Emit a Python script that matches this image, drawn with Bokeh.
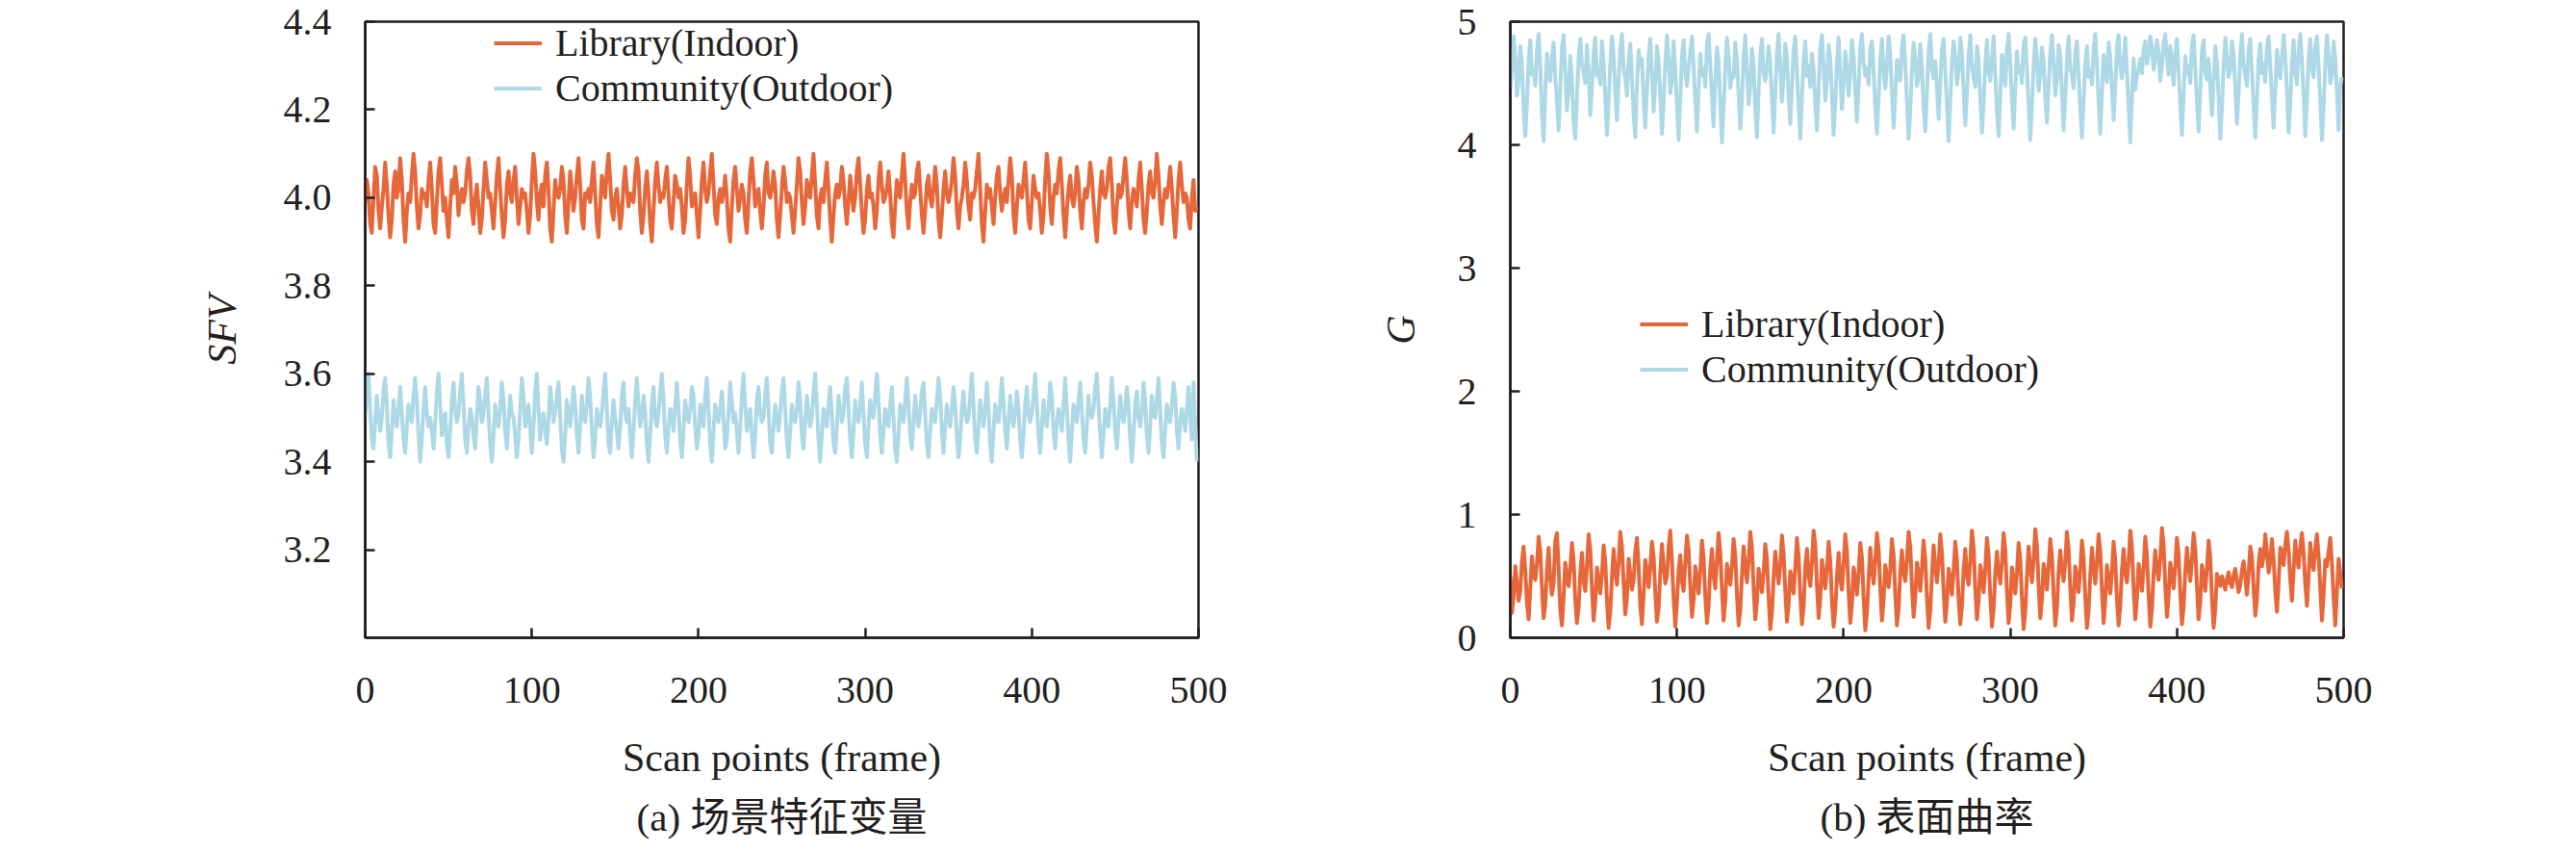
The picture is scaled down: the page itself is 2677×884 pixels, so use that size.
from bokeh.plotting import figure
from bokeh.layouts import row
from bokeh.models import Range1d, FixedTicker, PrintfTickFormatter, Legend, LegendItem, Title
from bokeh.embed import file_html
from bokeh.resources import INLINE

# ---------------- data ----------------
frames = list(range(500))   # scan point index

x_ticks = [0, 100, 200, 300, 400, 500]
y_ticks_a = [3.2, 3.4, 3.6, 3.8, 4.0, 4.2, 4.4]
y_ticks_b = [0, 1, 2, 3, 4, 5]

series_names = ["Library(Indoor)", "Community(Outdoor)"]
captions = ["(a) 场景特征变量", "(b) 表面曲率"]
y_labels = ["SFV", "G"]
x_label = "Scan points (frame)"

# (a) SFV - Library(Indoor)
sfv_library = [
    3.99, 4.04, 4.01, 3.94, 3.92, 4.00, 4.07, 4.05, 3.97, 3.93, 3.98, 4.02, 4.08, 4.03, 3.96, 3.91, 3.95, 4.03, 4.06, 4.00, 4.02, 4.09, 4.04, 3.95, 3.90,
    3.97, 4.01, 3.99, 4.05, 4.10, 4.06, 3.98, 3.93, 3.96, 4.02, 4.00, 4.01, 3.98, 4.04, 4.08, 4.02, 3.94, 3.92, 3.99, 4.06, 4.09, 4.03, 3.97, 4.00, 3.95,
    3.91, 3.98, 4.04, 4.01, 4.07, 4.03, 3.96, 4.00, 4.02, 3.99, 4.01, 4.06, 4.09, 4.05, 3.97, 3.94, 4.00, 4.03, 3.98, 3.92, 3.95, 4.02, 4.08, 4.04, 4.00,
    4.01, 3.97, 3.93, 3.99, 4.05, 4.09, 4.02, 3.96, 3.91, 3.95, 4.03, 4.06, 4.01, 3.99, 4.04, 4.07, 4.00, 3.94, 3.98, 4.02, 4.00, 4.01, 3.97, 3.92, 3.96,
    4.04, 4.10, 4.06, 3.99, 3.95, 4.01, 4.03, 3.98, 4.05, 4.08, 4.02, 3.93, 3.90, 3.97, 4.04, 4.01, 4.00, 4.02, 4.07, 4.04, 3.96, 3.92, 3.99, 4.06, 4.02,
    3.97, 4.00, 4.05, 4.09, 4.03, 3.95, 3.93, 4.01, 4.00, 4.02, 3.99, 4.04, 4.08, 4.01, 3.94, 3.91, 3.98, 4.05, 4.03, 4.00, 4.06, 4.10, 4.04, 3.97, 3.95,
    4.00, 4.02, 3.98, 3.93, 3.96, 4.03, 4.07, 4.02, 3.98, 4.01, 4.00, 3.99, 4.05, 4.09, 4.06, 3.97, 3.92, 3.96, 4.02, 4.06, 4.01, 3.94, 3.90, 3.97, 4.04,
    4.08, 4.03, 3.99, 4.01, 4.00, 4.04, 4.07, 4.01, 3.95, 3.93, 3.99, 4.05, 4.03, 4.00, 4.02, 3.98, 3.92, 3.95, 4.03, 4.09, 4.05, 3.98, 4.00, 4.01, 3.96,
    3.91, 3.97, 4.04, 4.08, 4.02, 3.99, 4.01, 4.06, 4.10, 4.03, 3.96, 3.94, 4.00, 4.02, 3.99, 4.01, 4.05, 4.00, 3.93, 3.90, 3.98, 4.04, 4.07, 4.02, 3.97,
    4.00, 4.03, 4.01, 3.95, 3.92, 3.99, 4.06, 4.09, 4.04, 3.98, 4.00, 4.02, 3.97, 3.93, 3.98, 4.05, 4.08, 4.01, 4.00, 4.02, 4.06, 4.03, 3.95, 3.91, 3.96,
    4.02, 4.07, 4.04, 3.99, 4.01, 4.00, 3.96, 3.92, 3.97, 4.03, 4.09, 4.06, 3.99, 3.94, 3.98, 4.04, 4.01, 4.00, 4.05, 4.10, 4.03, 3.96, 3.93, 4.00, 4.02,
    3.99, 4.04, 4.08, 4.02, 3.95, 3.90, 3.96, 4.01, 4.03, 4.00, 4.02, 4.07, 4.04, 3.98, 3.94, 3.99, 4.05, 4.01, 3.97, 4.00, 4.06, 4.09, 4.03, 3.97, 3.92,
    3.95, 4.02, 4.05, 4.00, 4.01, 3.98, 3.93, 3.97, 4.04, 4.08, 4.03, 3.99, 4.00, 4.02, 4.06, 4.01, 3.94, 3.91, 3.98, 4.04, 4.02, 4.00, 4.05, 4.10, 4.04,
    3.97, 3.93, 3.99, 4.03, 4.00, 4.01, 4.06, 4.08, 4.02, 3.96, 3.92, 3.97, 4.03, 4.05, 4.00, 3.98, 4.02, 4.07, 4.03, 3.95, 3.91, 3.96, 4.02, 4.06, 4.01,
    3.99, 4.01, 4.04, 4.09, 4.05, 3.97, 3.93, 3.98, 4.00, 4.03, 4.08, 4.04, 3.98, 3.95, 4.01, 4.00, 4.02, 4.06, 4.10, 4.02, 3.94, 3.90, 3.97, 4.03, 4.00,
    4.02, 3.98, 3.94, 4.00, 4.05, 4.07, 4.01, 3.97, 4.00, 4.02, 3.99, 4.04, 4.09, 4.05, 3.96, 3.92, 3.98, 4.03, 4.01, 4.00, 4.04, 4.08, 4.02, 3.95, 3.93,
    3.99, 4.05, 4.02, 4.00, 4.01, 3.97, 3.92, 3.96, 4.04, 4.10, 4.06, 3.98, 3.94, 4.00, 4.03, 4.01, 4.06, 4.09, 4.03, 3.96, 3.91, 3.97, 4.02, 4.05, 4.00,
    3.98, 4.01, 4.07, 4.04, 3.97, 3.93, 3.99, 4.02, 4.00, 4.03, 4.08, 4.05, 3.99, 3.94, 3.90, 3.96, 4.02, 4.06, 4.01, 4.00, 4.02, 4.07, 4.09, 4.03, 3.95,
    3.92, 3.98, 4.03, 4.00, 4.01, 4.05, 4.09, 4.04, 3.97, 3.93, 3.99, 4.02, 4.00, 3.98, 4.04, 4.08, 4.02, 3.95, 3.92, 3.97, 4.03, 4.06, 4.01, 4.00, 4.04,
    4.10, 4.05, 3.98, 3.94, 3.99, 4.02, 4.00, 4.03, 4.07, 4.02, 3.96, 3.91, 3.97, 4.04, 4.08, 4.03, 3.99, 4.01, 4.00, 3.95, 3.93, 4.00, 4.04, 3.97, 3.98,
]

# (a) SFV - Community(Outdoor)
sfv_community = [
    3.50, 3.58, 3.60, 3.52, 3.45, 3.43, 3.49, 3.55, 3.51, 3.47, 3.50, 3.56, 3.59, 3.53, 3.44, 3.41, 3.47, 3.54, 3.50, 3.48, 3.52, 3.57, 3.51, 3.45, 3.42,
    3.48, 3.53, 3.50, 3.49, 3.55, 3.59, 3.54, 3.46, 3.40, 3.45, 3.52, 3.57, 3.51, 3.48, 3.50, 3.47, 3.43, 3.49, 3.56, 3.60, 3.53, 3.46, 3.49, 3.51, 3.44,
    3.41, 3.47, 3.54, 3.58, 3.52, 3.49, 3.51, 3.56, 3.60, 3.53, 3.45, 3.42, 3.48, 3.52, 3.50, 3.46, 3.43, 3.50, 3.57, 3.54, 3.49, 3.51, 3.55, 3.59, 3.51,
    3.44, 3.40, 3.46, 3.53, 3.50, 3.48, 3.52, 3.58, 3.54, 3.47, 3.43, 3.49, 3.55, 3.51, 3.50, 3.46, 3.41, 3.45, 3.52, 3.59, 3.55, 3.48, 3.50, 3.53, 3.47,
    3.42, 3.48, 3.56, 3.60, 3.52, 3.45, 3.49, 3.51, 3.47, 3.44, 3.50, 3.57, 3.53, 3.49, 3.51, 3.55, 3.58, 3.50, 3.43, 3.40, 3.46, 3.54, 3.51, 3.48, 3.52,
    3.57, 3.53, 3.46, 3.42, 3.48, 3.55, 3.50, 3.49, 3.53, 3.59, 3.55, 3.47, 3.41, 3.45, 3.52, 3.50, 3.48, 3.51, 3.56, 3.60, 3.52, 3.44, 3.42, 3.49, 3.54,
    3.50, 3.47, 3.43, 3.48, 3.55, 3.58, 3.51, 3.49, 3.52, 3.46, 3.41, 3.47, 3.54, 3.59, 3.53, 3.48, 3.50, 3.55, 3.51, 3.44, 3.40, 3.46, 3.53, 3.57, 3.50,
    3.48, 3.51, 3.56, 3.60, 3.54, 3.46, 3.42, 3.48, 3.52, 3.50, 3.47, 3.53, 3.58, 3.52, 3.45, 3.41, 3.47, 3.54, 3.51, 3.49, 3.52, 3.57, 3.55, 3.48, 3.43,
    3.46, 3.53, 3.50, 3.48, 3.55, 3.59, 3.52, 3.44, 3.40, 3.47, 3.53, 3.51, 3.49, 3.52, 3.56, 3.50, 3.43, 3.45, 3.51, 3.58, 3.54, 3.49, 3.51, 3.47, 3.42,
    3.48, 3.55, 3.60, 3.53, 3.47, 3.50, 3.52, 3.46, 3.41, 3.46, 3.54, 3.57, 3.51, 3.49, 3.50, 3.55, 3.59, 3.52, 3.44, 3.42, 3.48, 3.53, 3.50, 3.47, 3.51,
    3.56, 3.59, 3.52, 3.45, 3.41, 3.47, 3.53, 3.50, 3.49, 3.52, 3.58, 3.54, 3.46, 3.43, 3.49, 3.55, 3.51, 3.48, 3.50, 3.56, 3.60, 3.53, 3.45, 3.40, 3.46,
    3.52, 3.50, 3.48, 3.53, 3.57, 3.51, 3.44, 3.42, 3.48, 3.55, 3.52, 3.49, 3.51, 3.57, 3.59, 3.52, 3.45, 3.41, 3.47, 3.54, 3.50, 3.49, 3.53, 3.58, 3.51,
    3.44, 3.41, 3.48, 3.54, 3.51, 3.50, 3.55, 3.60, 3.54, 3.46, 3.42, 3.47, 3.52, 3.50, 3.48, 3.53, 3.57, 3.50, 3.43, 3.40, 3.46, 3.53, 3.51, 3.49, 3.54,
    3.59, 3.53, 3.46, 3.43, 3.49, 3.55, 3.51, 3.48, 3.51, 3.56, 3.58, 3.51, 3.44, 3.41, 3.47, 3.52, 3.50, 3.49, 3.54, 3.59, 3.55, 3.47, 3.42, 3.48, 3.53,
    3.50, 3.48, 3.52, 3.57, 3.53, 3.46, 3.41, 3.45, 3.52, 3.56, 3.51, 3.49, 3.50, 3.55, 3.60, 3.53, 3.45, 3.42, 3.48, 3.54, 3.51, 3.48, 3.52, 3.58, 3.52,
    3.44, 3.40, 3.47, 3.53, 3.50, 3.49, 3.53, 3.59, 3.54, 3.47, 3.43, 3.49, 3.55, 3.51, 3.48, 3.51, 3.56, 3.52, 3.45, 3.41, 3.46, 3.53, 3.57, 3.51, 3.49,
    3.51, 3.55, 3.60, 3.53, 3.46, 3.42, 3.48, 3.54, 3.50, 3.48, 3.52, 3.58, 3.55, 3.47, 3.43, 3.49, 3.52, 3.50, 3.47, 3.53, 3.59, 3.52, 3.45, 3.40, 3.47,
    3.53, 3.51, 3.49, 3.54, 3.58, 3.52, 3.45, 3.42, 3.48, 3.55, 3.51, 3.50, 3.52, 3.57, 3.60, 3.53, 3.46, 3.41, 3.46, 3.52, 3.50, 3.48, 3.53, 3.59, 3.54,
    3.47, 3.43, 3.49, 3.55, 3.51, 3.49, 3.52, 3.57, 3.53, 3.45, 3.40, 3.46, 3.53, 3.56, 3.50, 3.48, 3.51, 3.58, 3.54, 3.46, 3.42, 3.48, 3.55, 3.51, 3.50,
    3.54, 3.59, 3.52, 3.44, 3.41, 3.47, 3.53, 3.50, 3.49, 3.53, 3.58, 3.55, 3.47, 3.43, 3.49, 3.52, 3.50, 3.47, 3.52, 3.57, 3.51, 3.45, 3.58, 3.49, 3.40,
]

# (b) G - Library(Indoor)
g_library = [
    0.50, 0.20, 0.34, 0.58, 0.45, 0.30, 0.38, 0.62, 0.74, 0.55, 0.28, 0.15, 0.40, 0.66, 0.52, 0.47, 0.60, 0.82, 0.70, 0.41, 0.16, 0.27, 0.55, 0.73, 0.48,
    0.35, 0.44, 0.79, 0.85, 0.57, 0.23, 0.10, 0.33, 0.61, 0.50, 0.42, 0.56, 0.77, 0.63, 0.31, 0.12, 0.25, 0.52, 0.69, 0.46, 0.38, 0.58, 0.84, 0.71, 0.40,
    0.14, 0.29, 0.57, 0.48, 0.36, 0.51, 0.75, 0.62, 0.30, 0.08, 0.21, 0.49, 0.72, 0.55, 0.43, 0.60, 0.86, 0.74, 0.45, 0.19, 0.33, 0.64, 0.52, 0.39, 0.47,
    0.70, 0.81, 0.58, 0.26, 0.11, 0.35, 0.63, 0.54, 0.41, 0.57, 0.78, 0.66, 0.37, 0.13, 0.24, 0.53, 0.76, 0.59, 0.44, 0.50, 0.73, 0.87, 0.62, 0.32, 0.09,
    0.28, 0.55, 0.67, 0.46, 0.38, 0.61, 0.83, 0.71, 0.42, 0.17, 0.31, 0.58, 0.49, 0.36, 0.54, 0.79, 0.65, 0.34, 0.12, 0.26, 0.56, 0.72, 0.50, 0.40, 0.63,
    0.85, 0.69, 0.39, 0.14, 0.30, 0.60, 0.52, 0.43, 0.58, 0.80, 0.67, 0.35, 0.10, 0.22, 0.51, 0.74, 0.57, 0.45, 0.62, 0.86, 0.73, 0.41, 0.15, 0.29, 0.56,
    0.47, 0.37, 0.53, 0.76, 0.64, 0.33, 0.07, 0.20, 0.49, 0.70, 0.55, 0.44, 0.59, 0.83, 0.68, 0.38, 0.13, 0.27, 0.54, 0.48, 0.36, 0.57, 0.81, 0.66, 0.34,
    0.11, 0.25, 0.58, 0.72, 0.51, 0.42, 0.61, 0.87, 0.75, 0.43, 0.16, 0.32, 0.63, 0.53, 0.40, 0.56, 0.78, 0.62, 0.30, 0.09, 0.23, 0.50, 0.69, 0.47, 0.39,
    0.60, 0.84, 0.70, 0.37, 0.12, 0.28, 0.57, 0.49, 0.35, 0.52, 0.77, 0.65, 0.33, 0.06, 0.21, 0.48, 0.73, 0.56, 0.44, 0.62, 0.85, 0.72, 0.40, 0.14, 0.31,
    0.59, 0.50, 0.41, 0.55, 0.80, 0.67, 0.36, 0.10, 0.24, 0.53, 0.71, 0.54, 0.46, 0.63, 0.86, 0.74, 0.42, 0.17, 0.33, 0.61, 0.52, 0.38, 0.57, 0.79, 0.64,
    0.32, 0.08, 0.22, 0.51, 0.75, 0.58, 0.45, 0.60, 0.84, 0.69, 0.39, 0.13, 0.29, 0.56, 0.48, 0.35, 0.54, 0.78, 0.63, 0.31, 0.11, 0.26, 0.55, 0.72, 0.50,
    0.43, 0.62, 0.87, 0.73, 0.40, 0.15, 0.30, 0.59, 0.51, 0.37, 0.56, 0.81, 0.66, 0.34, 0.09, 0.23, 0.52, 0.70, 0.53, 0.44, 0.61, 0.85, 0.71, 0.38, 0.12,
    0.27, 0.57, 0.49, 0.36, 0.53, 0.77, 0.64, 0.32, 0.07, 0.21, 0.50, 0.74, 0.57, 0.45, 0.63, 0.88, 0.75, 0.42, 0.16, 0.31, 0.60, 0.52, 0.39, 0.58, 0.80,
    0.67, 0.35, 0.10, 0.24, 0.54, 0.71, 0.55, 0.46, 0.62, 0.86, 0.72, 0.41, 0.14, 0.28, 0.58, 0.50, 0.37, 0.55, 0.79, 0.65, 0.33, 0.08, 0.22, 0.51, 0.73,
    0.56, 0.44, 0.61, 0.84, 0.70, 0.39, 0.12, 0.30, 0.59, 0.48, 0.36, 0.54, 0.78, 0.63, 0.31, 0.10, 0.26, 0.55, 0.72, 0.53, 0.45, 0.62, 0.87, 0.74, 0.40,
    0.15, 0.32, 0.60, 0.51, 0.38, 0.57, 0.82, 0.67, 0.35, 0.09, 0.23, 0.52, 0.71, 0.56, 0.47, 0.64, 0.89, 0.76, 0.43, 0.17, 0.34, 0.61, 0.53, 0.40, 0.58,
    0.81, 0.68, 0.36, 0.11, 0.25, 0.54, 0.73, 0.57, 0.46, 0.63, 0.85, 0.72, 0.42, 0.15, 0.29, 0.59, 0.50, 0.38, 0.56, 0.79, 0.65, 0.33, 0.08, 0.23, 0.52,
    0.47, 0.42, 0.50, 0.45, 0.39, 0.48, 0.53, 0.44, 0.41, 0.51, 0.56, 0.46, 0.37, 0.43, 0.55, 0.62, 0.49, 0.35, 0.52, 0.74, 0.66, 0.40, 0.18, 0.31, 0.60,
    0.72, 0.58, 0.66, 0.84, 0.70, 0.53, 0.62, 0.80, 0.64, 0.38, 0.21, 0.45, 0.73, 0.68, 0.59, 0.76, 0.86, 0.71, 0.47, 0.30, 0.55, 0.79, 0.63, 0.57, 0.74,
    0.85, 0.69, 0.44, 0.26, 0.50, 0.77, 0.62, 0.55, 0.72, 0.84, 0.66, 0.41, 0.14, 0.35, 0.63, 0.58, 0.70, 0.81, 0.60, 0.33, 0.10, 0.37, 0.64, 0.52, 0.40,
]

# (b) G - Community(Outdoor)
g_community = [
    4.45, 4.62, 4.88, 4.71, 4.40, 4.52, 4.80, 4.66, 4.30, 4.07, 4.33, 4.69, 4.85, 4.57, 4.61, 4.48, 4.76, 4.90, 4.63, 4.25, 4.03, 4.42, 4.74, 4.58, 4.52,
    4.71, 4.83, 4.55, 4.35, 4.12, 4.47, 4.79, 4.89, 4.60, 4.28, 4.44, 4.72, 4.53, 4.18, 4.05, 4.39, 4.70, 4.86, 4.65, 4.58, 4.50, 4.81, 4.59, 4.24, 4.46,
    4.75, 4.87, 4.56, 4.61, 4.49, 4.84, 4.67, 4.38, 4.08, 4.34, 4.66, 4.88, 4.73, 4.43, 4.20, 4.52, 4.78, 4.90, 4.62, 4.54, 4.40, 4.69, 4.82, 4.54, 4.25,
    4.06, 4.48, 4.77, 4.64, 4.70, 4.37, 4.14, 4.45, 4.73, 4.86, 4.57, 4.27, 4.50, 4.80, 4.68, 4.40, 4.09, 4.35, 4.66, 4.89, 4.70, 4.42, 4.53, 4.84, 4.61,
    4.32, 4.04, 4.38, 4.71, 4.85, 4.59, 4.48, 4.63, 4.76, 4.88, 4.63, 4.36, 4.11, 4.44, 4.74, 4.57, 4.62, 4.47, 4.81, 4.90, 4.65, 4.39, 4.15, 4.52, 4.79,
    4.67, 4.34, 4.02, 4.30, 4.62, 4.87, 4.72, 4.46, 4.58, 4.55, 4.83, 4.69, 4.41, 4.13, 4.37, 4.70, 4.89, 4.60, 4.33, 4.48, 4.78, 4.64, 4.29, 4.06, 4.43,
    4.73, 4.86, 4.58, 4.52, 4.61, 4.80, 4.66, 4.38, 4.10, 4.42, 4.75, 4.90, 4.63, 4.35, 4.54, 4.82, 4.71, 4.40, 4.17, 4.49, 4.77, 4.88, 4.59, 4.31, 4.05,
    4.39, 4.68, 4.84, 4.56, 4.64, 4.47, 4.74, 4.61, 4.33, 4.12, 4.45, 4.79, 4.89, 4.64, 4.36, 4.52, 4.81, 4.70, 4.41, 4.08, 4.34, 4.66, 4.87, 4.58, 4.29,
    4.51, 4.76, 4.63, 4.40, 4.58, 4.85, 4.72, 4.44, 4.19, 4.47, 4.80, 4.90, 4.67, 4.56, 4.62, 4.49, 4.78, 4.84, 4.60, 4.31, 4.09, 4.37, 4.70, 4.86, 4.59,
    4.46, 4.64, 4.88, 4.73, 4.42, 4.14, 4.40, 4.69, 4.57, 4.52, 4.79, 4.89, 4.66, 4.35, 4.05, 4.28, 4.61, 4.83, 4.70, 4.48, 4.55, 4.82, 4.63, 4.30, 4.11,
    4.43, 4.75, 4.90, 4.62, 4.54, 4.68, 4.46, 4.21, 4.50, 4.78, 4.86, 4.59, 4.32, 4.03, 4.36, 4.67, 4.84, 4.71, 4.49, 4.60, 4.87, 4.74, 4.44, 4.16, 4.41,
    4.72, 4.89, 4.64, 4.55, 4.47, 4.80, 4.69, 4.38, 4.10, 4.34, 4.65, 4.85, 4.60, 4.52, 4.70, 4.88, 4.57, 4.27, 4.07, 4.40, 4.73, 4.62, 4.48, 4.77, 4.90,
    4.66, 4.37, 4.13, 4.45, 4.76, 4.59, 4.63, 4.50, 4.82, 4.87, 4.61, 4.33, 4.04, 4.31, 4.64, 4.86, 4.70, 4.44, 4.56, 4.79, 4.68, 4.39, 4.18, 4.48, 4.75,
    4.89, 4.65, 4.40, 4.53, 4.81, 4.72, 4.43, 4.12, 4.38, 4.69, 4.88, 4.62, 4.57, 4.46, 4.74, 4.84, 4.58, 4.29, 4.06, 4.35, 4.67, 4.80, 4.55, 4.61, 4.49,
    4.77, 4.90, 4.66, 4.36, 4.09, 4.42, 4.73, 4.60, 4.51, 4.83, 4.71, 4.45, 4.20, 4.47, 4.79, 4.89, 4.63, 4.54, 4.68, 4.87, 4.59, 4.32, 4.02, 4.39, 4.70,
    4.45, 4.56, 4.62, 4.70, 4.58, 4.77, 4.84, 4.66, 4.73, 4.88, 4.79, 4.61, 4.69, 4.85, 4.75, 4.52, 4.64, 4.83, 4.90, 4.71, 4.57, 4.80, 4.67, 4.49, 4.74,
    4.86, 4.60, 4.33, 4.08, 4.41, 4.72, 4.58, 4.64, 4.50, 4.81, 4.89, 4.62, 4.35, 4.11, 4.44, 4.76, 4.85, 4.59, 4.53, 4.70, 4.47, 4.24, 4.52, 4.80, 4.67,
    4.38, 4.05, 4.30, 4.63, 4.87, 4.71, 4.55, 4.61, 4.84, 4.74, 4.46, 4.17, 4.42, 4.73, 4.90, 4.65, 4.57, 4.48, 4.78, 4.86, 4.60, 4.32, 4.06, 4.37, 4.69,
    4.82, 4.58, 4.66, 4.51, 4.79, 4.88, 4.64, 4.39, 4.14, 4.45, 4.77, 4.62, 4.54, 4.70, 4.89, 4.73, 4.43, 4.10, 4.34, 4.67, 4.85, 4.59, 4.49, 4.76, 4.90,
    4.68, 4.40, 4.07, 4.36, 4.71, 4.86, 4.61, 4.55, 4.80, 4.88, 4.63, 4.34, 4.04, 4.31, 4.65, 4.89, 4.74, 4.50, 4.57, 4.84, 4.70, 4.42, 4.12, 4.48, 4.55,
]

# ---------------- style ----------------
ORANGE = "#E6673A"
BLUE = "#ADD8E6"
INK = "#231F20"
SERIF = "Liberation Serif"
CAP_FONT = "Liberation Serif, Noto Sans CJK SC"


def make_panel(series, y_range, y_ticks, fmt, y_label, caption,
               border_left, border_right, legend_loc, ylab_standoff):
    p = figure(
        frame_width=866, frame_height=640,
        x_range=Range1d(0, 500), y_range=Range1d(*y_range),
        min_border_left=border_left, min_border_right=border_right,
        min_border_top=22, min_border_bottom=10,
        output_backend="svg", toolbar_location=None,
    )
    p.grid.visible = False
    p.outline_line_color = INK
    p.outline_line_width = 2.5
    p.outline_line_alpha = 1.0
    p.background_fill_color = "white"
    p.border_fill_color = "white"

    renderers = []
    for vals, color in zip(series, [ORANGE, BLUE]):
        r = p.line(frames, vals, line_color=color, line_width=4, line_join="round")
        renderers.append(r)

    for ax in (p.xaxis[0], p.yaxis[0]):
        ax.axis_line_color = INK
        ax.axis_line_width = 2.5
        ax.major_tick_line_color = INK
        ax.major_tick_line_width = 2.5
        ax.major_tick_in = 10
        ax.major_tick_out = 0
        ax.minor_tick_line_color = None
        ax.major_label_text_font = SERIF
        ax.major_label_text_font_size = "40px"
        ax.major_label_text_color = INK
        ax.axis_label_text_font = SERIF
        ax.axis_label_text_font_size = "42px"
        ax.axis_label_text_color = INK

    p.xaxis.ticker = FixedTicker(ticks=x_ticks)
    p.xaxis.major_label_standoff = 41
    p.xaxis.axis_label = x_label
    p.xaxis.axis_label_text_font_style = "normal"
    p.xaxis.axis_label_standoff = 31

    p.yaxis.ticker = FixedTicker(ticks=y_ticks)
    p.yaxis.formatter = PrintfTickFormatter(format=fmt)
    p.yaxis.major_label_standoff = 35
    p.yaxis.axis_label = y_label
    p.yaxis.axis_label_text_font_style = "italic"
    p.yaxis.axis_label_standoff = ylab_standoff

    legend = Legend(
        items=[LegendItem(label=n, renderers=[r]) for n, r in zip(series_names, renderers)],
        location=legend_loc,
        background_fill_alpha=0, border_line_alpha=0,
        label_text_font=SERIF, label_text_font_size="40px", label_text_color=INK,
        glyph_width=50, glyph_height=43, label_height=43, label_standoff=14,
        spacing=0, padding=0, margin=0,
    )
    p.add_layout(legend)

    cap = Title(text=caption, align="center", text_font=CAP_FONT,
                text_font_size="41px", text_font_style="normal", text_color=INK, standoff=23)
    p.add_layout(cap, "below")
    return p


p1 = make_panel([sfv_library, sfv_community], (3.0, 4.4), y_ticks_a, "%.1f", y_labels[0], captions[0],
                379, 60, (134, 547), 38)
p2 = make_panel([g_library, g_community], (0, 5), y_ticks_b, "%d", y_labels[1], captions[1],
                264, 200, (135, 255), 33)

layout = row(p1, p2)
open("out.html", "w").write(file_html(layout, INLINE))
